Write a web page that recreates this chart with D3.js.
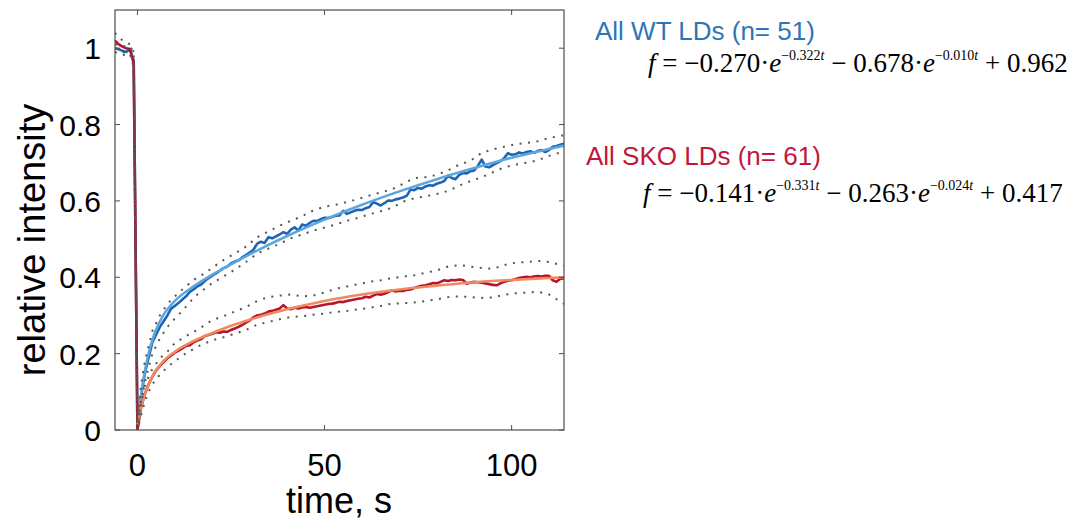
<!DOCTYPE html>
<html>
<head>
<meta charset="utf-8">
<script src="https://cdn.jsdelivr.net/npm/d3@7"></script>
<style>
  html, body { margin: 0; padding: 0; background: #fff; }
  svg { display: block; }
</style>
</head>
<body>
<div id="chart"></div>
<script>
// mean traces, 1 s sampling
const tMean = d3.range(-6, 115);
const wtMean = [
  1.000, 0.997, 0.993, 0.990, 0.997, 0.965,
  0.000, 0.090, 0.150, 0.190, 0.230, 0.250, 0.270, 0.285, 0.300, 0.318,
  0.325, 0.333, 0.342, 0.350, 0.362, 0.368, 0.376, 0.381, 0.390, 0.398,
  0.404, 0.410, 0.417, 0.424, 0.428, 0.436, 0.441, 0.444, 0.452, 0.458,
  0.465, 0.472, 0.488, 0.493, 0.490, 0.505, 0.502, 0.507, 0.512, 0.518,
  0.514, 0.525, 0.531, 0.522, 0.538, 0.535, 0.542, 0.548, 0.547, 0.552,
  0.556, 0.555, 0.558, 0.561, 0.562, 0.574, 0.566, 0.570, 0.574, 0.577,
  0.576, 0.581, 0.584, 0.597, 0.593, 0.588, 0.594, 0.601, 0.600, 0.604,
  0.606, 0.609, 0.614, 0.630, 0.628, 0.634, 0.632, 0.638, 0.641, 0.640,
  0.645, 0.648, 0.652, 0.666, 0.660, 0.657, 0.668, 0.673, 0.672, 0.678,
  0.680, 0.692, 0.708, 0.690, 0.688, 0.694, 0.699, 0.704, 0.712, 0.725,
  0.721, 0.722, 0.727, 0.724, 0.728, 0.730, 0.726, 0.731, 0.733, 0.728,
  0.733, 0.742, 0.744, 0.747, 0.750
];
const skoMean = [
  1.020, 1.010, 1.004, 1.000, 0.998, 0.960,
  0.000, 0.060, 0.095, 0.120, 0.140, 0.156, 0.168, 0.178, 0.188, 0.195,
  0.203, 0.208, 0.214, 0.220, 0.222, 0.230, 0.234, 0.238, 0.246, 0.249,
  0.252, 0.256, 0.255, 0.258, 0.257, 0.262, 0.266, 0.270, 0.275, 0.281,
  0.287, 0.295, 0.300, 0.302, 0.305, 0.310, 0.312, 0.315, 0.318, 0.327,
  0.318, 0.316, 0.320, 0.318, 0.321, 0.322, 0.320, 0.322, 0.324, 0.326,
  0.328, 0.330, 0.331, 0.333, 0.336, 0.335, 0.338, 0.340, 0.342, 0.344,
  0.345, 0.349, 0.347, 0.352, 0.356, 0.354, 0.357, 0.361, 0.366, 0.363,
  0.365, 0.364, 0.367, 0.368, 0.372, 0.375, 0.378, 0.379, 0.382, 0.385,
  0.384, 0.388, 0.392, 0.390, 0.393, 0.392, 0.394, 0.393, 0.383, 0.386,
  0.388, 0.387, 0.386, 0.384, 0.382, 0.380, 0.379, 0.384, 0.388, 0.391,
  0.392, 0.395, 0.398, 0.400, 0.401, 0.400, 0.402, 0.403, 0.402, 0.404,
  0.404, 0.392, 0.388, 0.396, 0.397
];

// dotted bounds
const tBound = [-6, -4, -2, -1, 0, 1, 2, 3, 4, 6, 8, 10, 12, 14, 16, 18, 20,
  23, 26, 29, 32, 35, 38, 41, 44, 47, 50, 53, 56, 59, 62, 65, 68, 71, 74, 77,
  80, 83, 86, 89, 92, 95, 98, 101, 104, 107, 110, 114];
const wtUpper = [1.010, 1.005, 1.005, 0.990, 0.020, 0.120, 0.180, 0.220, 0.260,
  0.300, 0.330, 0.350, 0.368, 0.385, 0.400, 0.410, 0.425, 0.445, 0.462, 0.480,
  0.505, 0.520, 0.535, 0.548, 0.560, 0.575, 0.585, 0.590, 0.597, 0.605, 0.614,
  0.622, 0.630, 0.645, 0.660, 0.662, 0.668, 0.680, 0.695, 0.705, 0.726, 0.735,
  0.742, 0.748, 0.752, 0.756, 0.765, 0.772];
const wtLower = [0.990, 0.982, 0.985, 0.960, 0.000, 0.070, 0.125, 0.165, 0.200,
  0.240, 0.270, 0.292, 0.312, 0.335, 0.355, 0.370, 0.385, 0.402, 0.420, 0.440,
  0.462, 0.475, 0.488, 0.502, 0.512, 0.522, 0.530, 0.538, 0.548, 0.556, 0.565,
  0.573, 0.582, 0.598, 0.607, 0.612, 0.618, 0.626, 0.640, 0.652, 0.662, 0.675,
  0.688, 0.695, 0.700, 0.706, 0.718, 0.730];
const skoUpper = [1.040, 1.020, 1.010, 0.990, 0.010, 0.080, 0.115, 0.140, 0.160,
  0.188, 0.205, 0.228, 0.240, 0.252, 0.262, 0.275, 0.288, 0.298, 0.310, 0.322,
  0.338, 0.348, 0.352, 0.355, 0.350, 0.352, 0.360, 0.370, 0.376, 0.382, 0.388,
  0.392, 0.398, 0.402, 0.405, 0.412, 0.418, 0.428, 0.432, 0.428, 0.424, 0.422,
  0.432, 0.438, 0.440, 0.443, 0.440, 0.430];
const skoLower = [1.000, 0.990, 0.985, 0.950, 0.000, 0.040, 0.075, 0.100, 0.120,
  0.145, 0.165, 0.180, 0.195, 0.207, 0.218, 0.227, 0.235, 0.243, 0.252, 0.262,
  0.276, 0.283, 0.290, 0.296, 0.298, 0.302, 0.305, 0.309, 0.312, 0.316, 0.320,
  0.325, 0.331, 0.332, 0.334, 0.338, 0.342, 0.348, 0.350, 0.348, 0.346, 0.347,
  0.354, 0.358, 0.360, 0.362, 0.355, 0.330];

// fitted curves (values of the printed fits)
const tFit = [0, 1, 2, 3, 4, 5, 7, 10, 15, 20, 25, 30, 40, 50, 60, 70, 80, 90, 100, 110, 114];
const wtFit = [0.014, 0.095, 0.156, 0.201, 0.236, 0.263, 0.302, 0.338, 0.376, 0.407,
  0.434, 0.460, 0.508, 0.551, 0.590, 0.625, 0.657, 0.686, 0.713, 0.736, 0.745];
const skoFit = [0.013, 0.059, 0.094, 0.120, 0.141, 0.157, 0.181, 0.205, 0.233, 0.254,
  0.273, 0.289, 0.316, 0.338, 0.355, 0.368, 0.378, 0.387, 0.393, 0.398, 0.400];

const xTicks = [0, 50, 100];
const yTicks = [0, 0.2, 0.4, 0.6, 0.8, 1];

const W = 1073, H = 531;
const box = { left: 115, right: 564, top: 10, bottom: 430 };

const svg = d3.select("#chart").append("svg")
  .attr("width", W).attr("height", H)
  .style("font-family", "'Liberation Sans', Arial, sans-serif");

const x = d3.scaleLinear().domain([-6, 114]).range([box.left, box.right]);
const y = d3.scaleLinear().domain([0, 1.1]).range([box.bottom, box.top]);

const axisColor = "#4d4d4d";
const tickLen = 5;

svg.append("clipPath").attr("id", "plotclip")
  .append("rect")
  .attr("x", box.left).attr("y", box.top)
  .attr("width", box.right - box.left).attr("height", box.bottom - box.top);

const plot = svg.append("g").attr("clip-path", "url(#plotclip)");

const line = (ts, vs) => d3.line()
  .x((d, i) => x(ts[i]))
  .y(d => y(d))
  .curve(d3.curveLinear)(vs);

const smooth = (ts, vs) => d3.line()
  .x((d, i) => x(ts[i]))
  .y(d => y(d))
  .curve(d3.curveMonotoneX)(vs);

// data traces + fits
plot.append("path").attr("d", line(tMean, wtMean))
  .attr("fill", "none").attr("stroke", "#1f64b4").attr("stroke-width", 2.6)
  .attr("stroke-linejoin", "round");
plot.append("path").attr("d", smooth(tFit, wtFit))
  .attr("fill", "none").attr("stroke", "#5ea7dd").attr("stroke-width", 2.6);

plot.append("path").attr("d", line(tMean, skoMean))
  .attr("fill", "none").attr("stroke", "#b5152e").attr("stroke-width", 2.6)
  .attr("stroke-linejoin", "round");
plot.append("path").attr("d", smooth(tFit, skoFit))
  .attr("fill", "none").attr("stroke", "#f08a5c").attr("stroke-width", 2.6);

// dotted bounds
[wtUpper, wtLower, skoUpper, skoLower].forEach(vs => {
  plot.append("path").attr("d", line(tBound, vs))
    .attr("fill", "none").attr("stroke", "#555")
    .attr("stroke-width", 2).attr("stroke-dasharray", "2,6.5");
});

// box + ticks
const axes = svg.append("g");
axes.append("rect")
  .attr("x", box.left).attr("y", box.top)
  .attr("width", box.right - box.left).attr("height", box.bottom - box.top)
  .attr("fill", "none").attr("stroke", axisColor).attr("stroke-width", 1.2);

xTicks.forEach(t => {
  axes.append("line").attr("x1", x(t)).attr("x2", x(t))
    .attr("y1", box.bottom).attr("y2", box.bottom - tickLen)
    .attr("stroke", axisColor);
  axes.append("line").attr("x1", x(t)).attr("x2", x(t))
    .attr("y1", box.top).attr("y2", box.top + tickLen)
    .attr("stroke", axisColor);
  axes.append("text").attr("x", x(t)).attr("y", 476)
    .attr("text-anchor", "middle").attr("font-size", 31).attr("fill", "#000")
    .text(t);
});
yTicks.forEach(v => {
  axes.append("line").attr("x1", box.left).attr("x2", box.left + tickLen)
    .attr("y1", y(v)).attr("y2", y(v)).attr("stroke", axisColor);
  axes.append("line").attr("x1", box.right).attr("x2", box.right - tickLen)
    .attr("y1", y(v)).attr("y2", y(v)).attr("stroke", axisColor);
  axes.append("text").attr("x", 101).attr("y", y(v) + 11)
    .attr("text-anchor", "end").attr("font-size", 30).attr("fill", "#000")
    .text(d3.format("~g")(v));
});

svg.append("text").attr("x", 339).attr("y", 513)
  .attr("text-anchor", "middle").attr("font-size", 36).text("time, s");
svg.append("text")
  .attr("transform", `translate(45,${(box.top + box.bottom) / 2 + 20}) rotate(-90)`)
  .attr("text-anchor", "middle").attr("font-size", 38).text("relative intensity");

// legend text
const legend = [
  { label: "All WT LDs (n= 51)", color: "#2e75b6", lx: 595, ly: 40,
    fx: 648, fy: 72, a: "0.270", k1: "0.322", b: "0.678", k2: "0.010", c: "0.962" },
  { label: "All SKO LDs (n= 61)", color: "#c0183a", lx: 586, ly: 165,
    fx: 643, fy: 202, a: "0.141", k1: "0.331", b: "0.263", k2: "0.024", c: "0.417" }
];

legend.forEach(d => {
  svg.append("text").attr("x", d.lx).attr("y", d.ly)
    .attr("font-size", 26).attr("fill", d.color).text(d.label);

  const f = svg.append("text").attr("x", d.fx).attr("y", d.fy)
    .attr("font-size", 27).attr("fill", "#000")
    .style("font-family", "'Liberation Serif', 'DejaVu Serif', serif");
  f.append("tspan").attr("font-style", "italic").text("f");
  f.append("tspan").text(" = \u2212" + d.a + "\u00b7");
  f.append("tspan").attr("font-style", "italic").text("e");
  f.append("tspan").attr("font-size", 14).attr("dy", -12).text("\u2212" + d.k1);
  f.append("tspan").attr("font-size", 14).attr("font-style", "italic").text("t");
  f.append("tspan").attr("dy", 12).text(" \u2212 " + d.b + "\u00b7");
  f.append("tspan").attr("font-style", "italic").text("e");
  f.append("tspan").attr("font-size", 14).attr("dy", -12).text("\u2212" + d.k2);
  f.append("tspan").attr("font-size", 14).attr("font-style", "italic").text("t");
  f.append("tspan").attr("dy", 12).text(" + " + d.c);
});
</script>
</body>
</html>
